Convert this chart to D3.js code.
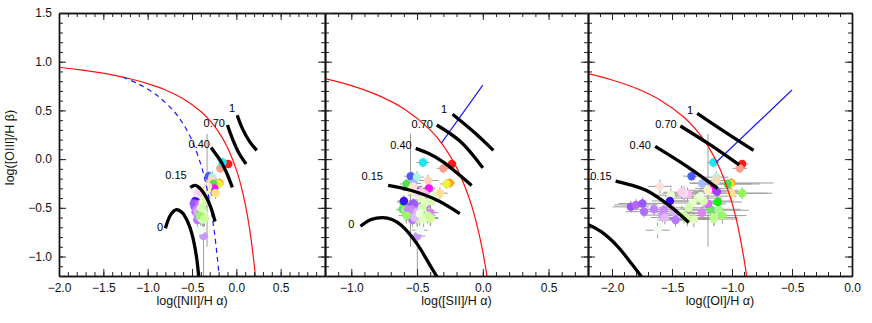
<!DOCTYPE html>
<meta charset="utf-8">
<style>
    body {
        margin: 0;
        background: #fff;
        font-family: "Liberation Sans", Arial, sans-serif;
    }
    .axis path.domain {
        stroke: #111;
        stroke-width: 1.4px;
    }
    .axis line {
        stroke: #222;
        stroke-width: 1px;
    }
    .axis text {
        font-size: 12px;
        fill: #111;
    }
    .title {
        font-size: 12.5px;
        fill: #111;
    }
    .mlabel {
        font-size: 11px;
        fill: #000;
    }
    .err {
        stroke: #9c9c9c;
        stroke-width: 1px;
    }
    .model {
        fill: none;
        stroke: #000;
        stroke-width: 3.3px;
    }
    .kew {
        fill: none;
        stroke: #ff1010;
        stroke-width: 1.2px;
    }
    .sey {
        fill: none;
        stroke: #1a1aff;
        stroke-width: 1.2px;
    }
</style>
<svg width="872" height="323"></svg>
<script src="https://d3js.org/d3.v7.min.js"></script>
<script>

    // one entry per region, same order in every array
    var colors = ["#ff1a1a", "#f4a08c", "#18e8f0", "#4a5cff", "#b4f2e6", "#ffd6b8", "#a8b8ff", "#ffaa10",
        "#f0f040", "#50e050", "#ff10ff", "#a040ff", "#ffe28c", "#90f850", "#10f010", "#66e866",
        "#a8f890", "#ccf8a8", "#fde2da", "#eaffcc", "#3a10ff", "#ffb4f0", "#fff0c4", "#a050ff",
        "#b466ff", "#9a58ff", "#b070ff", "#c084ff", "#d098ff", "#c68cff", "#dcb0ff", "#b878ff",
        "#e2b8ff", "#c898f8", "#e080ff", "#d868ff", "#ddffbb", "#e6ffcc", "#d4ffaa", "#eeffdd",
        "#ccff99", "#e0ffc0", "#f0fff0", "#d8ffb0", "#e8ffd8", "#bbff88", "#98f868", "#f2e4ff",
        "#ffcdee", "#d0ff98"];

    var logOIII = [-0.05, -0.095, -0.035, -0.175, -0.185, -0.22, -0.25, -0.245,
        -0.255, -0.255, -0.30, -0.335, -0.35, -0.35, -0.44, -0.515,
        -0.525, -0.615, -0.28, -0.37, -0.43, -0.36, -0.32, -0.49,
        -0.47, -0.455, -0.54, -0.515, -0.575, -0.52, -0.54, -0.625,
        -0.60, -0.79, -0.55, -0.46, -0.40, -0.45, -0.50, -0.56,
        -0.58, -0.62, -0.73, -0.43, -0.38, -0.60, -0.58, -0.35,
        -0.34, -0.61];
    var errOIII = [0.04, 0.05, 0.05, 0.05, 0.06, 0.06, 0.06, 0.05,
        0.05, 0.05, 0.05, 0.06, 0.06, 0.06, 0.06, 0.06,
        0.06, 0.07, 0.07, 0.07, 0.06, 0.07, 0.58, 0.06,
        0.06, 0.06, 0.06, 0.06, 0.07, 0.06, 0.07, 0.07,
        0.07, 0.45, 0.07, 0.07, 0.07, 0.07, 0.07, 0.08,
        0.08, 0.08, 0.08, 0.07, 0.07, 0.08, 0.08, 0.07,
        0.07, 0.08];

    var logNII = [-0.09, -0.18, -0.155, -0.31, -0.27, -0.28, -0.23, -0.19,
        -0.20, -0.26, -0.25, -0.29, -0.235, -0.35, -0.434, -0.42,
        -0.38, -0.36, -0.32, -0.39, -0.464, -0.37, -0.33, -0.47,
        -0.45, -0.48, -0.46, -0.44, -0.44, -0.45, -0.43, -0.44,
        -0.41, -0.37, -0.40, -0.42, -0.36, -0.38, -0.40, -0.37,
        -0.39, -0.38, -0.40, -0.34, -0.33, -0.37, -0.41, -0.44,
        -0.41, -0.36];
    var errNII = [0.03, 0.04, 0.03, 0.04, 0.04, 0.04, 0.04, 0.04,
        0.04, 0.04, 0.03, 0.04, 0.05, 0.05, 0.04, 0.05,
        0.05, 0.05, 0.05, 0.05, 0.04, 0.05, 0.05, 0.04,
        0.04, 0.04, 0.04, 0.04, 0.04, 0.04, 0.05, 0.05,
        0.05, 0.05, 0.05, 0.05, 0.05, 0.05, 0.05, 0.05,
        0.05, 0.05, 0.05, 0.05, 0.05, 0.05, 0.05, 0.05,
        0.05, 0.05];

    var logSII = [-0.235, -0.30, -0.455, -0.548, -0.50, -0.415, -0.53, -0.25,
        -0.276, -0.58, -0.41, -0.486, -0.326, -0.45, -0.604, -0.61,
        -0.586, -0.50, -0.53, -0.51, -0.60, -0.44, -0.55, -0.55,
        -0.52, -0.53, -0.56, -0.54, -0.55, -0.57, -0.50, -0.536,
        -0.52, -0.498, -0.397, -0.43, -0.47, -0.44, -0.46, -0.48,
        -0.42, -0.45, -0.48, -0.40, -0.38, -0.40, -0.58, -0.50,
        -0.47, -0.397];
    var errSII = [0.04, 0.05, 0.05, 0.05, 0.05, 0.08, 0.06, 0.04,
        0.05, 0.05, 0.05, 0.05, 0.06, 0.06, 0.05, 0.05,
        0.06, 0.06, 0.07, 0.06, 0.05, 0.06, 0.06, 0.05,
        0.05, 0.05, 0.05, 0.05, 0.05, 0.05, 0.06, 0.06,
        0.06, 0.06, 0.06, 0.06, 0.06, 0.06, 0.06, 0.06,
        0.06, 0.06, 0.06, 0.06, 0.06, 0.06, 0.06, 0.06,
        0.06, 0.06];

    var logOI = [-0.915, -0.935, -1.155, -1.337, -1.13, -1.13, -1.248, -1.005,
        -1.02, -1.035, -1.157, -1.125, -1.005, -0.915, -1.118, -1.18,
        -1.11, -1.152, -1.60, -1.51, -1.517, -1.37, -1.20, -1.843,
        -1.80, -1.746, -1.733, -1.65, -1.58, -1.567, -1.484, -1.47,
        -1.56, null, -1.25, -1.20, -1.28, -1.33, -1.36, -1.42,
        -1.40, -1.318, -1.62, -1.235, -1.262, -1.15, -1.08, -1.40,
        -1.42, -1.373];
    var errOI = [0.05, 0.06, 0.05, 0.07, 0.10, 0.12, 0.10, 0.35,
        0.25, 0.20, 0.15, 0.20, 0.30, 0.25, 0.20, 0.25,
        0.25, 0.20, 0.10, 0.15, 0.15, 0.12, 0.25, 0.15,
        0.18, 0.20, 0.15, 0.18, 0.15, 0.20, 0.15, 0.15,
        0.12, 0, 0.15, 0.15, 0.20, 0.20, 0.25, 0.20,
        0.15, 0.20, 0.10, 0.25, 0.30, 0.20, 0.20, 0.18,
        0.15, 0.20];

    // model grid tracks, labelled by mixing fraction
    var modelNames = ["0", "0.15", "0.40", "0.70", "1"];
    var modelNII = [
        [[-0.80, -0.71], [-0.74, -0.57], [-0.68, -0.52], [-0.61, -0.55], [-0.55, -0.64], [-0.50, -0.77], [-0.45, -1.00], [-0.42, -1.25]],
        [[-0.52, -0.29], [-0.46, -0.27], [-0.40, -0.31], [-0.34, -0.39], [-0.29, -0.49], [-0.24, -0.64]],
        [[-0.285, 0.12], [-0.23, 0.05], [-0.17, -0.03], [-0.11, -0.14], [-0.045, -0.29]],
        [[-0.10, 0.35], [-0.04, 0.20], [0.03, 0.06], [0.11, -0.05]],
        [[0.01, 0.45], [0.07, 0.31], [0.15, 0.18], [0.23, 0.09]]
    ];
    var modelSII = [
        [[-0.93, -0.69], [-0.85, -0.62], [-0.76, -0.60], [-0.69, -0.62], [-0.62, -0.68], [-0.50, -0.87], [-0.41, -1.07], [-0.33, -1.25]],
        [[-0.72, -0.27], [-0.55, -0.32], [-0.35, -0.42], [-0.175, -0.56]],
        [[-0.51, 0.11], [-0.40, 0.05], [-0.30, -0.03], [-0.085, -0.27]],
        [[-0.35, 0.35], [-0.17, 0.18], [0.0, -0.09]],
        [[-0.23, 0.46], [-0.07, 0.28], [0.08, 0.09]]
    ];
    var modelOI = [
        [[-2.35, -0.60], [-2.20, -0.67], [-2.09, -0.745], [-1.95, -0.90], [-1.84, -1.07], [-1.76, -1.20], [-1.72, -1.28]],
        [[-1.97, -0.225], [-1.83, -0.27], [-1.70, -0.33], [-1.51, -0.49], [-1.36, -0.65]],
        [[-1.64, 0.13], [-1.37, -0.08], [-1.12, -0.30]],
        [[-1.43, 0.34], [-1.18, 0.145], [-0.94, -0.06]],
        [[-1.29, 0.47], [-1.06, 0.28], [-0.82, 0.09]]
    ];
    // where each track label sits (right end of text, data units)
    var labelAtNII = [[-0.827, -0.697], [-0.56, -0.163], [-0.297, 0.155], [-0.128, 0.37], [-0.015, 0.525]];
    var labelAtSII = [[-0.977, -0.666], [-0.759, -0.173], [-0.541, 0.145], [-0.379, 0.36], [-0.272, 0.514]];
    var labelAtOI = [null, [-2.003, -0.173], [-1.675, 0.145], [-1.461, 0.36], [-1.325, 0.504]];

    // demarcation lines
    var kewleyNII = [[-2.0, 0.943], [-1.8, 0.921], [-1.6, 0.895], [-1.4, 0.864], [-1.2, 0.825], [-1.0, 0.775],
        [-0.8, 0.71], [-0.6, 0.62], [-0.4, 0.489], [-0.3, 0.398], [-0.2, 0.28], [-0.1, 0.12], [0.0, -0.108],
        [0.05, -0.262], [0.1, -0.459], [0.15, -0.716], [0.2, -1.069], [0.22, -1.25]];
    var kauffmannNII = [[-1.28, 0.841], [-1.1, 0.770], [-0.9, 0.658], [-0.7, 0.487], [-0.6, 0.362], [-0.5, 0.191],
        [-0.4, -0.056], [-0.35, -0.225], [-0.3, -0.443], [-0.25, -0.733], [-0.2, -1.14], [-0.19, -1.24]];
    var kewleySII = [[-1.2, 0.826], [-1.0, 0.755], [-0.8, 0.657], [-0.6, 0.517], [-0.4, 0.30], [-0.3, 0.139],
        [-0.2, -0.085], [-0.1, -0.414], [-0.05, -0.646], [0.0, -0.95], [0.04, -1.271]];
    var seyfertSII = [[-0.315, 0.165], [0.0, 0.76]];
    var kewleyOI = [[-2.2, 0.877], [-2.0, 0.812], [-1.8, 0.727], [-1.6, 0.607], [-1.4, 0.429], [-1.3, 0.302],
        [-1.2, 0.133], [-1.1, -0.101], [-1.0, -0.45], [-0.95, -0.698], [-0.9, -1.025], [-0.87, -1.277]];
    var seyfertOI = [[-1.13, -0.03], [-0.50, 0.71]];

    var xTicksNII = [-2.0, -1.5, -1.0, -0.5, 0.0, 0.5];
    var xTicksSII = [-1.0, -0.5, 0.0, 0.5];
    var xTicksOI = [-2.0, -1.5, -1.0, -0.5, 0.0];
    var yTicks = [-1.0, -0.5, 0.0, 0.5, 1.0, 1.5];

    var panels = [
        {left: 59, right: 325, domain: [-2, 1], ticks: xTicksNII, xs: logNII, ex: errNII,
            model: modelNII, labelAt: labelAtNII, red: kewleyNII, blue: kauffmannNII, dashed: true,
            title: "log([NII]/H α)", yLabels: true},
        {left: 325, right: 588, domain: [-1.2, 0.8], ticks: xTicksSII, xs: logSII, ex: errSII,
            model: modelSII, labelAt: labelAtSII, red: kewleySII, blue: seyfertSII, dashed: false,
            title: "log([SII]/H α)", yLabels: false},
        {left: 588, right: 852, domain: [-2.2, 0.0], ticks: xTicksOI, xs: logOI, ex: errOI,
            model: modelOI, labelAt: labelAtOI, red: kewleyOI, blue: seyfertOI, dashed: false,
            title: "log([OI]/H α)", yLabels: false}
    ];

    var svg = d3.select("svg"),
            plotTop = 13,
            plotBottom = 276,
            fmt = d3.format(".1f");

    var y = d3.scaleLinear().domain([-1.2, 1.5]).range([plotBottom, plotTop]);
    var yMinor = y.ticks(27);

    panels.forEach(function(p, pi) {
        var x = d3.scaleLinear().domain(p.domain).range([p.left, p.right]);
        var xMinor = x.ticks(Math.round((p.domain[1] - p.domain[0]) * 10));
        var g = svg.append("g");

        g.append("clipPath")
                .attr("id", "clip" + pi)
                .append("rect")
                .attr("x", p.left).attr("y", plotTop)
                .attr("width", p.right - p.left).attr("height", plotBottom - plotTop);

        var plot = g.append("g").attr("clip-path", "url(#clip" + pi + ")");

        var pts = colors.map(function(c, i) {
            return {c: c, x: p.xs[i], ex: p.ex[i], y: logOIII[i], ey: errOIII[i]};
        }).filter(function(d) { return d.x !== null; });

        // error bars
        plot.selectAll(".ex").data(pts).enter().append("line")
                .attr("class", "err")
                .attr("x1", function(d) { return x(d.x - d.ex); })
                .attr("x2", function(d) { return x(d.x + d.ex); })
                .attr("y1", function(d) { return y(d.y); })
                .attr("y2", function(d) { return y(d.y); });
        plot.selectAll(".ey").data(pts).enter().append("line")
                .attr("class", "err")
                .attr("x1", function(d) { return x(d.x); })
                .attr("x2", function(d) { return x(d.x); })
                .attr("y1", function(d) { return y(d.y - d.ey); })
                .attr("y2", function(d) { return y(d.y + d.ey); });

        // points
        plot.selectAll("circle").data(pts).enter().append("circle")
                .attr("cx", function(d) { return x(d.x); })
                .attr("cy", function(d) { return y(d.y); })
                .attr("r", 4.2)
                .style("fill", function(d) { return d.c; });

        var line = d3.line()
                .curve(d3.curveCatmullRom.alpha(0.5))
                .x(function(d) { return x(d[0]); })
                .y(function(d) { return y(d[1]); });

        plot.append("path").attr("class", "kew").attr("d", line(p.red));
        plot.append("path").attr("class", "sey").attr("d", line(p.blue))
                .style("stroke-dasharray", p.dashed ? "5,4" : null);

        plot.selectAll(".model").data(p.model).enter().append("path")
                .attr("class", "model")
                .attr("d", line);

        // track labels
        g.selectAll(".mlabel").data(modelNames.filter(function(n, i) { return p.labelAt[i]; }))
                .enter().append("text")
                .attr("class", "mlabel")
                .attr("text-anchor", "end")
                .attr("dy", "0.35em")
                .attr("x", function(n) { return x(p.labelAt[modelNames.indexOf(n)][0]); })
                .attr("y", function(n) { return y(p.labelAt[modelNames.indexOf(n)][1]); })
                .text(function(n) { return n; });

        // axes on all four sides, ticks pointing inward
        function addAxis(axis, tr, vals, size, labels) {
            var a = g.append("g")
                    .attr("class", "axis")
                    .attr("transform", tr)
                    .call(axis.tickValues(vals).tickSize(size).tickSizeOuter(0)
                            .tickPadding(labels ? 7 : 0)
                            .tickFormat(labels ? fmt : ""));
            a.attr("font-family", null).attr("font-size", null);
            return a;
        }
        addAxis(d3.axisBottom(x), "translate(0," + plotBottom + ")", xMinor, -4, false);
        addAxis(d3.axisBottom(x), "translate(0," + plotBottom + ")", p.ticks, -7, true);
        addAxis(d3.axisTop(x), "translate(0," + plotTop + ")", xMinor, -4, false);
        addAxis(d3.axisTop(x), "translate(0," + plotTop + ")", p.ticks, -7, false);
        addAxis(d3.axisLeft(y), "translate(" + p.left + ",0)", yMinor, -4, false);
        addAxis(d3.axisLeft(y), "translate(" + p.left + ",0)", yTicks, -7, p.yLabels);
        addAxis(d3.axisRight(y), "translate(" + p.right + ",0)", yMinor, -4, false);
        addAxis(d3.axisRight(y), "translate(" + p.right + ",0)", yTicks, -7, false);

        g.append("text")
                .attr("class", "title")
                .attr("text-anchor", "middle")
                .attr("x", (p.left + p.right) / 2)
                .attr("y", 305)
                .text(p.title);
    });

    svg.append("text")
            .attr("class", "title")
            .attr("text-anchor", "middle")
            .attr("transform", "translate(14," + ((plotTop + plotBottom) / 2 + 3) + ") rotate(-90)")
            .text("log([OIII]/H β)");

</script>
